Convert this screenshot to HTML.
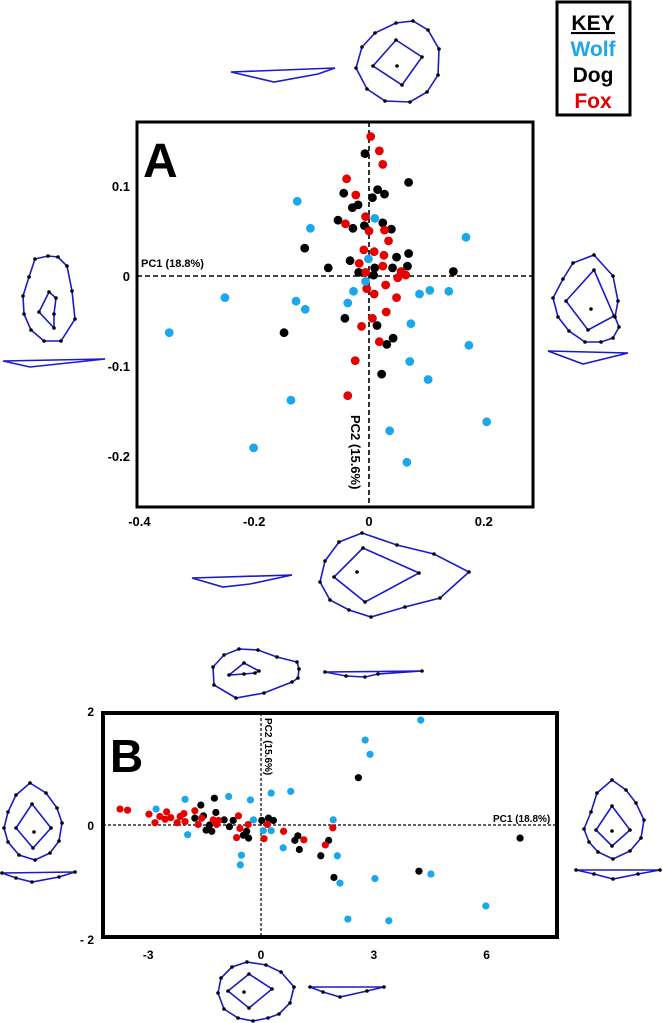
<!DOCTYPE html>
<html><head><meta charset="utf-8"><style>
body{margin:0;background:#fff;}
svg{display:block;font-family:"Liberation Sans",Arial,sans-serif;font-weight:bold;}
</style></head><body>
<svg id="fig" width="663" height="1023" viewBox="0 0 663 1023" xmlns="http://www.w3.org/2000/svg">
<g id="icons" fill="none" stroke="#1a1acc" stroke-width="1.6"></g>
<g>
<rect x="557" y="2" width="73" height="113" fill="#fff" stroke="#000" stroke-width="3"/>
<text x="593" y="30" text-anchor="middle" font-size="21" fill="#000" text-decoration="underline">KEY</text>
<line x1="571" y1="33" x2="615" y2="33" stroke="#000" stroke-width="2"/>
<text x="593" y="56" text-anchor="middle" font-size="21" fill="#1aa7ec">Wolf</text>
<text x="593" y="82" text-anchor="middle" font-size="21" fill="#000">Dog</text>
<text x="593" y="108" text-anchor="middle" font-size="21" fill="#e60000">Fox</text>
</g>
<g id="panelA"></g>
<g id="panelB"></g>
</svg>
<script>
// Panel A data
const aTicksX=[-0.4,-0.2,0,0.2];
const aTickLabelsX=["-0.4","-0.2","0","0.2"];
const aTicksY=[0.1,0,-0.1,-0.2];
const aTickLabelsY=["0.1","0","-0.1","-0.2"];
const aFoxX=[0.003,0.018,0.024,-0.039,-0.023,-0.041,-0.006,0.000,0.027,0.034,-0.009,0.009,0.026,-0.017,0.024,-0.006,0.056,0.050,0.064,-0.004,0.029,0.009,0.048,0.030,0.006,-0.013,0.018,-0.024,-0.037];
const aFoxY=[0.155,0.139,0.124,0.108,0.090,0.058,0.066,0.050,0.051,0.039,0.029,0.027,0.023,0.014,0.011,0.004,0.005,-0.002,0.001,-0.014,-0.010,-0.020,-0.024,-0.040,-0.047,-0.056,-0.073,-0.094,-0.133];
const aDogX=[-0.007,0.069,-0.044,0.015,0.027,0.006,-0.019,-0.029,-0.054,0.024,-0.028,-0.008,0.039,-0.112,0.069,0.048,-0.033,-0.071,0.010,0.041,0.067,-0.018,0.008,0.147,-0.042,0.014,-0.148,0.042,0.031,0.022];
const aDogY=[0.136,0.104,0.092,0.096,0.091,0.087,0.079,0.076,0.062,0.059,0.053,0.056,0.052,0.031,0.025,0.021,0.017,0.009,0.009,0.009,0.011,0.004,0.001,0.005,-0.047,-0.055,-0.063,-0.069,-0.076,-0.109];
const aWolfX=[-0.125,0.010,-0.102,0.169,-0.001,-0.006,-0.027,-0.037,0.088,0.106,0.139,-0.251,-0.127,-0.111,-0.348,0.073,0.174,0.071,0.103,-0.136,0.205,0.036,-0.201,0.066];
const aWolfY=[0.083,0.064,0.053,0.043,0.019,-0.006,-0.017,-0.030,-0.020,-0.016,-0.017,-0.024,-0.028,-0.037,-0.063,-0.053,-0.077,-0.095,-0.115,-0.138,-0.162,-0.172,-0.191,-0.207];
// Panel B data
const bTicksX=[-3,0,3,6];
const bTickLabelsX=["-3","0","3","6"];
const bTicksY=[2,0,-2];
const bTickLabelsY=["2","0","- 2"];
const bFoxX=[-3.75,-3.55,-2.98,-2.82,-2.69,-2.51,-2.55,-2.40,-2.23,-2.15,-2.05,-2.02,-1.76,-1.67,-1.58,-1.27,-1.18,-1.13,-0.60,-0.56,-0.34,-0.65,0.08,0.17,0.60,1.14,1.71,1.91];
const bFoxY=[0.28,0.26,0.19,0.04,0.15,0.23,0.10,0.13,0.04,0.15,0.20,0.06,0.25,0.01,0.12,0.09,0.01,0.08,0.16,-0.06,0.01,-0.22,-0.24,0.01,-0.11,-0.26,-0.35,-0.05];
const bDogX=[-1.60,-1.24,-1.20,-1.76,-1.53,-1.37,-1.46,-1.31,-0.98,-0.84,-0.74,-0.38,-0.47,-0.33,0.02,0.20,0.33,0.98,0.90,1.02,1.59,1.80,1.94,2.59,4.20,6.89];
const bDogY=[0.35,0.47,0.22,0.12,0.16,0.00,-0.09,-0.11,0.09,-0.03,0.08,-0.11,-0.18,-0.23,0.08,0.12,0.08,-0.19,-0.27,-0.43,-0.54,-0.27,-0.92,0.83,-0.81,-0.23];
const bWolfX=[-2.79,-2.02,-0.86,-0.28,-1.95,-0.20,0.27,0.79,0.06,0.27,0.59,-0.52,-0.55,1.92,2.03,2.10,3.03,4.52,2.77,2.90,4.25,5.98,2.31,3.40];
const bWolfY=[0.28,0.45,0.50,0.44,-0.17,0.09,0.56,0.59,-0.10,-0.10,-0.40,-0.53,-0.70,0.09,-0.54,-1.02,-0.94,-0.86,1.49,1.24,1.84,-1.42,-1.65,-1.68];

const NS="http://www.w3.org/2000/svg";
function mk(tag,attrs,parent){const e=document.createElementNS(NS,tag);for(const k in attrs)e.setAttribute(k,attrs[k]);parent.appendChild(e);return e;}
const COL={wolf:"#1aa7ec",dog:"#000",fox:"#e60000"};

function panel(g,cfg){
  const sx=v=>cfg.x0+v*cfg.kx, sy=v=>cfg.y0-v*cfg.ky;
  const fr=mk('rect',{x:cfg.l,y:cfg.t,width:cfg.r-cfg.l,height:cfg.b-cfg.t,fill:'none',stroke:'#000','stroke-width':cfg.bw},g);
  
  
  const hx=mk('line',{x1:cfg.l,x2:cfg.r,y1:sy(0),y2:sy(0),stroke:'#000','stroke-width':cfg.dw,'stroke-dasharray':cfg.dash},g);
  
  
  const vx=mk('line',{x1:sx(0),x2:sx(0),y1:cfg.t,y2:cfg.b,stroke:'#000','stroke-width':cfg.dw,'stroke-dasharray':cfg.dash},g);
  
  
  cfg.tx.forEach((v,i)=>{const t=mk('text',{x:sx(v),y:cfg.b+cfg.txo,'text-anchor':'middle','font-size':cfg.fs},g);t.textContent=cfg.txl[i];
    
    });
  cfg.ty.forEach((v,i)=>{const t=mk('text',{x:cfg.tyx,y:sy(v)+5,'text-anchor':'end','font-size':cfg.fs},g);t.textContent=cfg.tyl[i];
    
    });
  const series=[['dog',cfg.dx,cfg.dy],['fox',cfg.fx,cfg.fy],['wolf',cfg.wx,cfg.wy]];
  series.forEach(([n,xs,ys])=>{const sg=mk('g',{fill:COL[n]},g);
    
    
    xs.forEach((v,i)=>{const c=mk('circle',{cx:sx(v),cy:sy(ys[i]),r:cfg.pr},sg);
      
      });});
}
const gA=document.getElementById('panelA'), gB=document.getElementById('panelB');
panel(gA,{x0:369,kx:574,y0:276,ky:900,l:137,t:122,r:533,b:507,bw:3,dw:1.6,dash:'5,3',tx:aTicksX,txl:aTickLabelsX,txo:19,ty:aTicksY,tyl:aTickLabelsY,tyx:130,fs:13,
  fx:aFoxX,fy:aFoxY,dx:aDogX,dy:aDogY,wx:aWolfX,wy:aWolfY,pr:4.4});
panel(gB,{x0:261,kx:37.6,y0:825,ky:57,l:103,t:713,r:557,b:937,bw:4,dw:1.2,dash:'3,2',tx:bTicksX,txl:bTickLabelsX,txo:22,ty:bTicksY,tyl:bTickLabelsY,tyx:94,fs:12,
  fx:bFoxX,fy:bFoxY,dx:bDogX,dy:bDogY,wx:bWolfX,wy:bWolfY,pr:3.6});
function lab(g,txt,x,y,fs,rot,name){const t=mk('text',{x:x,y:y,'font-size':fs},g);t.textContent=txt;if(rot)t.setAttribute('transform','rotate(90 '+x+' '+y+')');
  
  return t;}
lab(gA,'A',143,177,48,false,'panel-a-label');
lab(gA,'PC1 (18.8%)',141,267,11,false,'pc1-axis-title');
lab(gA,'PC2 (15.6%)',351,415,13,true,'pc2-axis-title');
lab(gB,'B',110,772,46,false,'panel-b-label');
lab(gB,'PC2 (15.6%)',265,718,10,true,'pc2-axis-title');
lab(gB,'PC1 (18.8%)',493,822,10,false,'pc1-axis-title');

// shape outline icons (decorative)
const icons=[
 {o:[[231,72],[335,68],[318,74],[274,82]],d:[]},
 {o:[[396,23],[413,21],[428,30],[439,49],[438,75],[427,92],[410,102],[385,101],[367,89],[356,68],[362,47],[375,33]],i:[[396,40],[422,57],[402,85],[373,66]],c:[397,66]},
 {o:[[48,256],[58,257],[67,266],[72,291],[75,319],[61,341],[44,341],[31,330],[24,314],[23,296],[29,277],[35,259]],i:[[49,292],[56,298],[54,314],[54,328],[39,312]]},
 {o:[[3,361],[105,359],[30,367]]},
 {o:[[594,255],[613,276],[618,301],[615,317],[619,327],[613,338],[601,342],[585,342],[569,331],[558,317],[553,298],[563,279],[573,263]],i:[[594,270],[614,316],[588,330],[566,301]],c:[591,309]},
 {o:[[548,351],[628,353],[583,364]]},
 {o:[[192,578],[292,575],[250,584],[223,587]]},
 {o:[[362,533],[397,545],[434,554],[469,572],[440,598],[405,607],[371,617],[349,610],[330,600],[320,582],[325,561],[339,542]],i:[[363,548],[419,573],[365,602],[334,577]],c:[357,572]},
 {o:[[239,649],[258,650],[277,657],[297,662],[299,669],[298,678],[292,682],[264,693],[236,698],[214,685],[213,667],[224,655]],i:[[244,663],[259,671],[255,673],[244,674],[229,675]]},
 {o:[[325,672],[422,671],[378,674],[365,677],[346,676]]},
 {o:[[30,783],[46,793],[57,808],[62,823],[59,841],[50,853],[35,860],[19,855],[8,842],[4,828],[8,812],[16,795]],i:[[32,804],[51,828],[33,848],[16,828]],c:[34,832]},
 {o:[[2,873],[75,872],[59,877],[32,882],[16,878]]},
 {o:[[612,780],[626,790],[636,803],[644,820],[641,838],[630,851],[613,859],[598,852],[589,842],[584,829],[591,812],[597,793]],i:[[612,806],[630,830],[612,846],[596,830]],c:[612,831]},
 {o:[[576,870],[660,870],[638,874],[613,879],[594,874]]},
 {o:[[247,962],[266,965],[281,972],[294,987],[290,1003],[279,1014],[268,1018],[253,1021],[238,1018],[224,1009],[218,993],[221,978],[232,967]],i:[[249,974],[272,989],[249,1008],[228,991]],c:[244,992]},
 {o:[[310,987],[384,987],[367,991],[340,997],[323,992]]}
];
const ig=document.getElementById('icons');
icons.forEach(ic=>{
  const g=mk('g',{},ig);
  
  
  [ic.o,ic.i].forEach(p=>{if(!p)return;mk('polygon',{points:p.map(q=>q.join(',')).join(' ')},g);
    if(p.length>4||ic.i) p.forEach(q=>mk('circle',{cx:q[0],cy:q[1],r:1.8,fill:'#000',stroke:'none'},g));});
  if(ic.c)mk('circle',{cx:ic.c[0],cy:ic.c[1],r:1.8,fill:'#000',stroke:'none'},g);
});
</script>
</body></html>
